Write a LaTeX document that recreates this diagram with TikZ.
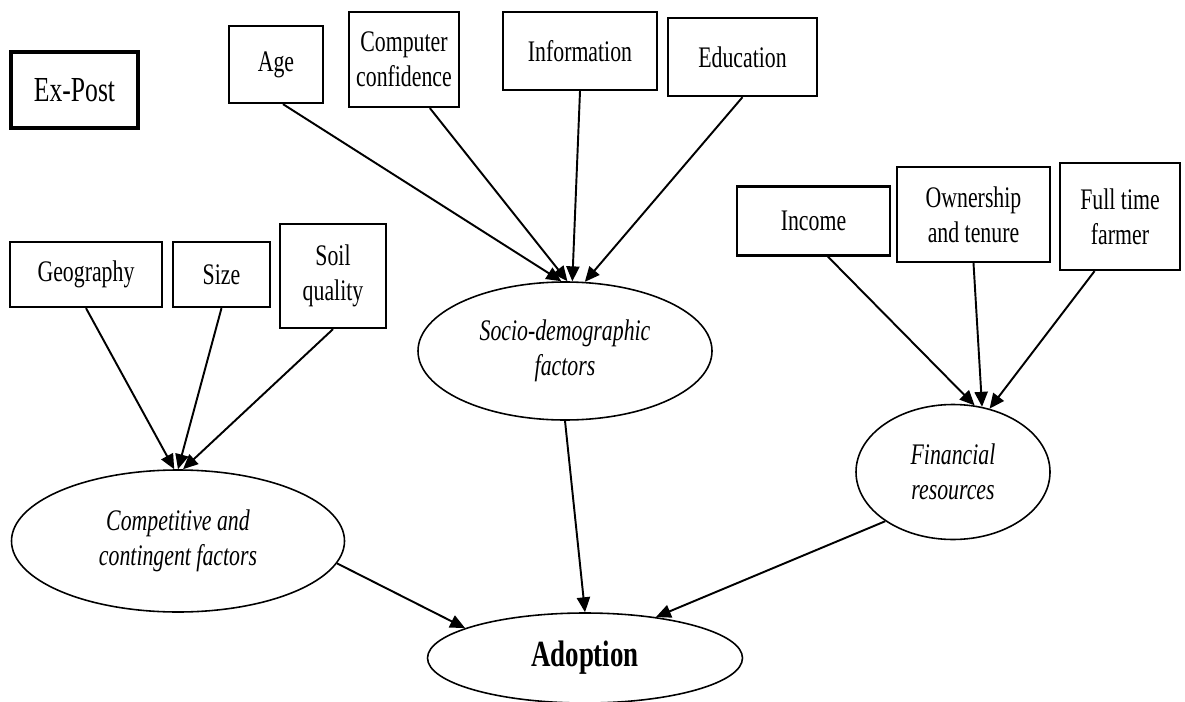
\documentclass[tikz,border=0pt]{standalone}
\usepackage{fontspec}
\setmainfont[FakeStretch=0.73]{Liberation Serif}
\usetikzlibrary{arrows.meta,shapes.geometric}
\newcommand{\px}{0.02cm}

\begin{document}
\begin{tikzpicture}[x=\px,y=-\px,
        box/.style={draw,line width=1.3pt,inner sep=0pt,align=center,
            font=\fontsize{17}{20}\selectfont},
        oval/.style={draw,ellipse,line width=0.9pt,inner sep=0pt,align=center,
            font=\fontsize{17}{20}\selectfont\itshape},
        arr/.style={line width=1.1pt,-{Triangle[length=8.5pt,width=7.5pt]}}]
                \useasboundingbox (0,0) rectangle (1185,702);
                % boxes
                \node[box,line width=2pt,minimum width=127*\px,minimum height=76*\px,
                    font=\fontsize{20}{24}\selectfont] (expost) at (74.5,90) {Ex-Post};
                \node[box,minimum width=94*\px,minimum height=77*\px] (age) at (276,64.5) {Age};
                \node[box,minimum width=110*\px,minimum height=95*\px] (comp) at (404,59.5) {Computer\\confidence};
                \node[box,minimum width=154*\px,minimum height=78*\px] (info) at (580,51) {Information};
                \node[box,minimum width=149*\px,minimum height=78*\px] (edu) at (742.5,57) {Education};
                \node[box,minimum width=152*\px,minimum height=65*\px] (geo) at (86,274.5) {Geography};
                \node[box,minimum width=97*\px,minimum height=65*\px] (size) at (221.5,274.5) {Size};
                \node[box,minimum width=106*\px,minimum height=104*\px] (soil) at (333,276) {Soil\\quality};
                \node[box,minimum width=153*\px,minimum height=69*\px] (income) at (813.5,221) {Income};
                \node[box,minimum width=153*\px,minimum height=95*\px] (own) at (973.5,214.5) {Ownership\\and tenure};
                \node[box,minimum width=120*\px,minimum height=107*\px] (full) at (1120,216.5) {Full time\\farmer};
                % factors
                \node[oval,minimum width=294*\px,minimum height=138*\px] (socio) at (565,351) {Socio-demographic\\factors};
                \node[oval,minimum width=333*\px,minimum height=142*\px] (compet) at (178,541) {Competitive and\\contingent factors};
                \node[oval,minimum width=194*\px,minimum height=135*\px] (fin) at (953,472) {Financial\\resources};
                \node[oval,minimum width=315*\px,minimum height=90*\px,
                    font=\fontsize{21}{25}\selectfont\bfseries] (adopt) at (585,658) {Adoption};
                % arrows
                \draw[arr] (age.-80) -- (socio.93);
                \draw[arr] (comp.-62) -- (socio.88);
                \draw[arr] (info.south) -- (socio.84);
                \draw[arr] (edu.south) -- (socio.74);
                \draw[arr] (geo.south) -- (compet.93);
                \draw[arr] (size.south) -- (compet.90);
                \draw[arr] (soil.south) -- (compet.86);
                \draw[arr] (income.-68) -- (fin.72);
                \draw[arr] (own.south) -- (fin.66);
                \draw[arr] (full.-115) -- (fin.60);
                \draw[arr] (compet.-8) -- (adopt.166);
                \draw[arr] (socio.south) -- (adopt.north);
                \draw[arr] (fin.-144) -- (adopt.30);
            \end{tikzpicture}
\end{document}
